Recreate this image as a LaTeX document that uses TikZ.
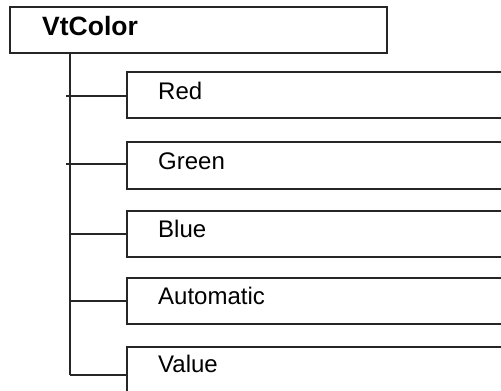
\documentclass[tikz,border=0pt]{standalone}
\usepackage{fontspec}
\setmainfont{Liberation Sans}
\begin{document}
\begin{tikzpicture}[x=1pt,y=-1pt,
  box/.style={draw=black!85,line width=1.5pt,fill=white,anchor=north west,inner sep=0pt,outer sep=0pt},
  lbl/.style={anchor=base west,inner sep=0pt,font=\fontsize{24}{26}\selectfont},
  conn/.style={draw=black!85,line width=1.5pt}]
\useasboundingbox (0,0) rectangle (501,391);
\clip (0,0) rectangle (501,391);
\fill[white] (0,0) rectangle (501,391);
% root
\node[box,minimum width=377pt,minimum height=46pt] (root) at (10,7) {};
\node[anchor=base west,inner sep=0pt,font=\fontsize{26.5}{28}\selectfont\bfseries] (rootlbl) at (42,35) {VtColor};
% children
\node[box,minimum width=400pt,minimum height=46pt] (red) at (127,72) {};
\node[lbl] (redlbl) at (158,99) {Red};
\node[box,minimum width=400pt,minimum height=47pt] (green) at (127,142) {};
\node[lbl] (greenlbl) at (158,169) {Green};
\node[box,minimum width=400pt,minimum height=46pt] (blue) at (127,211) {};
\node[lbl] (bluelbl) at (158,237) {Blue};
\node[box,minimum width=400pt,minimum height=46pt] (auto) at (127,278) {};
\node[lbl] (autolbl) at (158,304) {Automatic};
\node[box,minimum width=400pt,minimum height=48pt] (value) at (127,347) {};
\node[lbl] (valuelbl) at (158,372) {Value};
% trunk points
\coordinate (t1) at (70,96);
\coordinate (t2) at (70,164);
\coordinate (t3) at (70,234);
\coordinate (t4) at (70,301);
\coordinate (t5) at (70,375);
\coordinate (s1) at (66,96);
\coordinate (s2) at (66,164);
\draw[conn] (root.south -| t1) -- (t5);
\draw[conn] (s1) -- (t1 -| red.west);
\draw[conn] (s2) -- (t2 -| green.west);
\draw[conn] (t3) -- (t3 -| blue.west);
\draw[conn] (t4) -- (t4 -| auto.west);
\draw[conn] (t5) -- (t5 -| value.west);
\end{tikzpicture}
\end{document}
